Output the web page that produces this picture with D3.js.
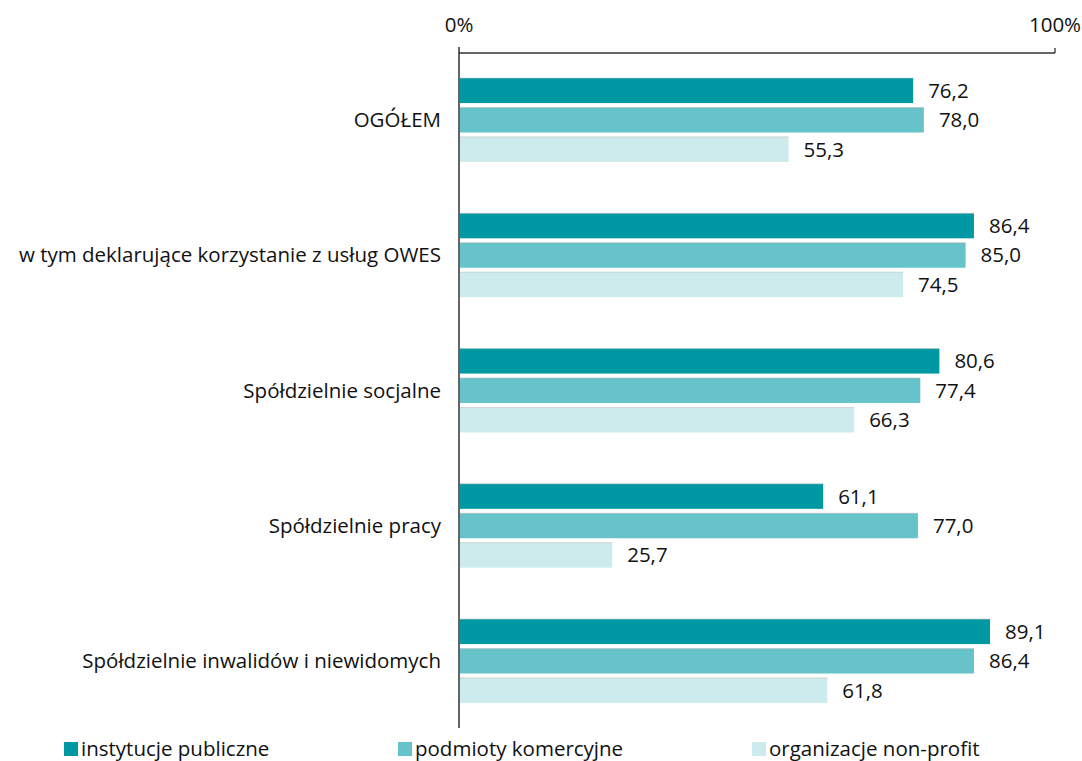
<!DOCTYPE html>
<html><head><meta charset="utf-8">
<script src="https://cdn.jsdelivr.net/npm/d3@7"></script>
<style>body{margin:0;background:#fff}svg{display:block}</style>
</head><body>
<script>
const categories = ["OGÓŁEM","w tym deklarujące korzystanie z usług OWES","Spółdzielnie socjalne","Spółdzielnie pracy","Spółdzielnie inwalidów i niewidomych"];
const seriesNames = ["instytucje publiczne","podmioty komercyjne","organizacje non-profit"];
const instytucje = [76.2,86.4,80.6,61.1,89.1];
const podmioty = [78.0,85.0,77.4,77.0,86.4];
const organizacje = [55.3,74.5,66.3,25.7,61.8];
const tickLabels = ["0%","100%"];
const colors = ["#0099a3","#66c3ca","#cdebed"];
const series = [instytucje,podmioty,organizacje];

const W=1082,H=761;
const font = "'Open Sans',sans-serif";
const fs = 20.5;
const svg=d3.select("body").append("svg").attr("width",W).attr("height",H).style("font-family",font);
const x=d3.scaleLinear().domain([0,100]).range([459,1055]);
const y0=d3.scaleBand().domain(categories).range([51,730]).paddingInner(0.38).paddingOuter(0.2);
const y1=d3.scaleBand().domain([0,1,2]).range([0,y0.bandwidth()]).paddingInner(0.15);

// axis
const ax=svg.append("g").attr("transform","translate(0,53)");
ax.append("line").attr("x1",x(0)).attr("x2",x(100)).attr("stroke","#333").attr("stroke-width",1.3);
ax.append("line").attr("x1",x(100)).attr("x2",x(100)).attr("y1",-5).attr("y2",0).attr("stroke","#333").attr("stroke-width",1.3);
[0,100].forEach((v,i)=>ax.append("text").attr("x",x(v)).attr("y",-21).attr("text-anchor","middle").attr("font-size",fs).attr("fill","#111").text(tickLabels[i]));
svg.append("line").attr("x1",x(0)).attr("x2",x(0)).attr("y1",47).attr("y2",728).attr("stroke","#111").attr("stroke-width",1.3);

const g=svg.append("g");
categories.forEach((c,ci)=>{
  const gy=y0(c);
  series.forEach((s,si)=>{
    const yy=gy+y1(si);
    g.append("rect").attr("x",x(0)+1).attr("y",yy).attr("width",x(s[ci])-x(0)-1).attr("height",y1.bandwidth()).attr("fill",colors[si]);
    g.append("line").attr("x1",x(0)+1).attr("x2",x(s[ci])).attr("y1",yy).attr("y2",yy).attr("stroke","#bbb").attr("stroke-width",0.8).attr("opacity",0.7);
    g.append("text").attr("x",x(s[ci])+15).attr("y",yy+y1.bandwidth()/2).attr("dy","0.35em").attr("font-size",fs).attr("fill","#111").text(s[ci].toFixed(1).replace(".",","));
  });
  g.append("text").attr("x",441).attr("y",gy+y0.bandwidth()/2).attr("dy","0.35em").attr("text-anchor","end").attr("font-size",fs).attr("fill","#111").text(c);
});

// legend
const lx=[64,398,752];
seriesNames.forEach((n,i)=>{
  svg.append("rect").attr("x",lx[i]).attr("y",742).attr("width",14).attr("height",14).attr("fill",colors[i]);
  svg.append("text").attr("x",lx[i]+17).attr("y",749).attr("dy","0.35em").attr("font-size",fs).attr("fill","#111").text(n);
});
</script>
</body></html>
